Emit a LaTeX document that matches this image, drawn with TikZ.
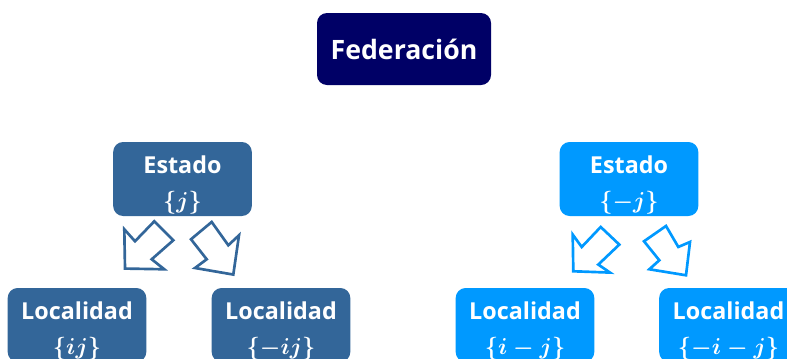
\documentclass[tikz,border=0pt]{standalone}
\usepackage{fontspec}
\setmainfont{Open Sans}
\definecolor{navyfed}{RGB}{0,0,102}
\definecolor{azulest}{RGB}{51,102,153}
\definecolor{celeste}{RGB}{0,153,255}
\newcommand{\arriba}{\rule{0pt}{22pt}}
\begin{document}
\begin{tikzpicture}[x=0.75pt,y=0.75pt,yscale=-1,xscale=1,
	caja/.style={rounded corners=7.5pt,text=white,align=center,inner sep=0pt,
		font=\bfseries\boldmath\fontsize{17.5}{26}\selectfont,minimum width=104pt,minimum height=55.5pt},
	flecha/.style={line width=2pt,line join=miter,fill=white}]
%set diagram size
	\useasboundingbox (0,0) rectangle (787,358);
	\clip (0,0) rectangle (787,358);

% Federacion
	\node [caja,fill=navyfed,minimum width=130.5pt,minimum height=54pt,font=\bfseries\fontsize{20}{24}\selectfont] (fed) at (404,49) {Federación};
% Estados
	\node [caja,fill=azulest] (ei) at (182.5,179) {\arriba Estado\\$\{j\}$};
	\node [caja,fill=celeste] (ed) at (629,179) {\arriba Estado\\$\{-j\}$};
% Localidades
	\node [caja,fill=azulest] (l1) at (77,325) {\arriba Localidad\\$\{ij\}$};
	\node [caja,fill=azulest] (l2) at (281,325) {\arriba Localidad\\$\{-ij\}$};
	\node [caja,fill=celeste] (l3) at (525,325) {\arriba Localidad\\$\{i-j\}$};
	\node [caja,fill=celeste] (l4) at (728.5,325) {\arriba Localidad\\$\{-i-j\}$};

% Block arrows below Estado {j}
	\draw [flecha,draw=azulest,shift={(ei.south)}] (-58.2,13) -- (-47.5,25) -- (-28.2,5) -- (-9.2,24) -- (-30.8,43) -- (-18.2,53) -- (-57.5,52.3) -- cycle ;
	\draw [flecha,draw=azulest,shift={(ei.south)}] (8.5,23) -- (29.2,5.7) -- (45.8,29) -- (56.5,19) -- (50.8,58.3) -- (12.5,51.7) -- (24.2,43) -- cycle ;
% Block arrows below Estado {-j}
	\draw [flecha,draw=celeste,shift={(ed.south)}] (-56.3,18.3) -- (-47.3,30.7) -- (-28.3,10.7) -- (-9.7,28.3) -- (-30.7,48.3) -- (-19,56.3) -- (-55.7,55) -- cycle ;
	\draw [flecha,draw=celeste,shift={(ed.south)}] (15,25) -- (37,9.7) -- (49.3,30.7) -- (61,25.7) -- (57,59) -- (20.3,53) -- (30.3,44) -- cycle ;

\end{tikzpicture}
\end{document}
